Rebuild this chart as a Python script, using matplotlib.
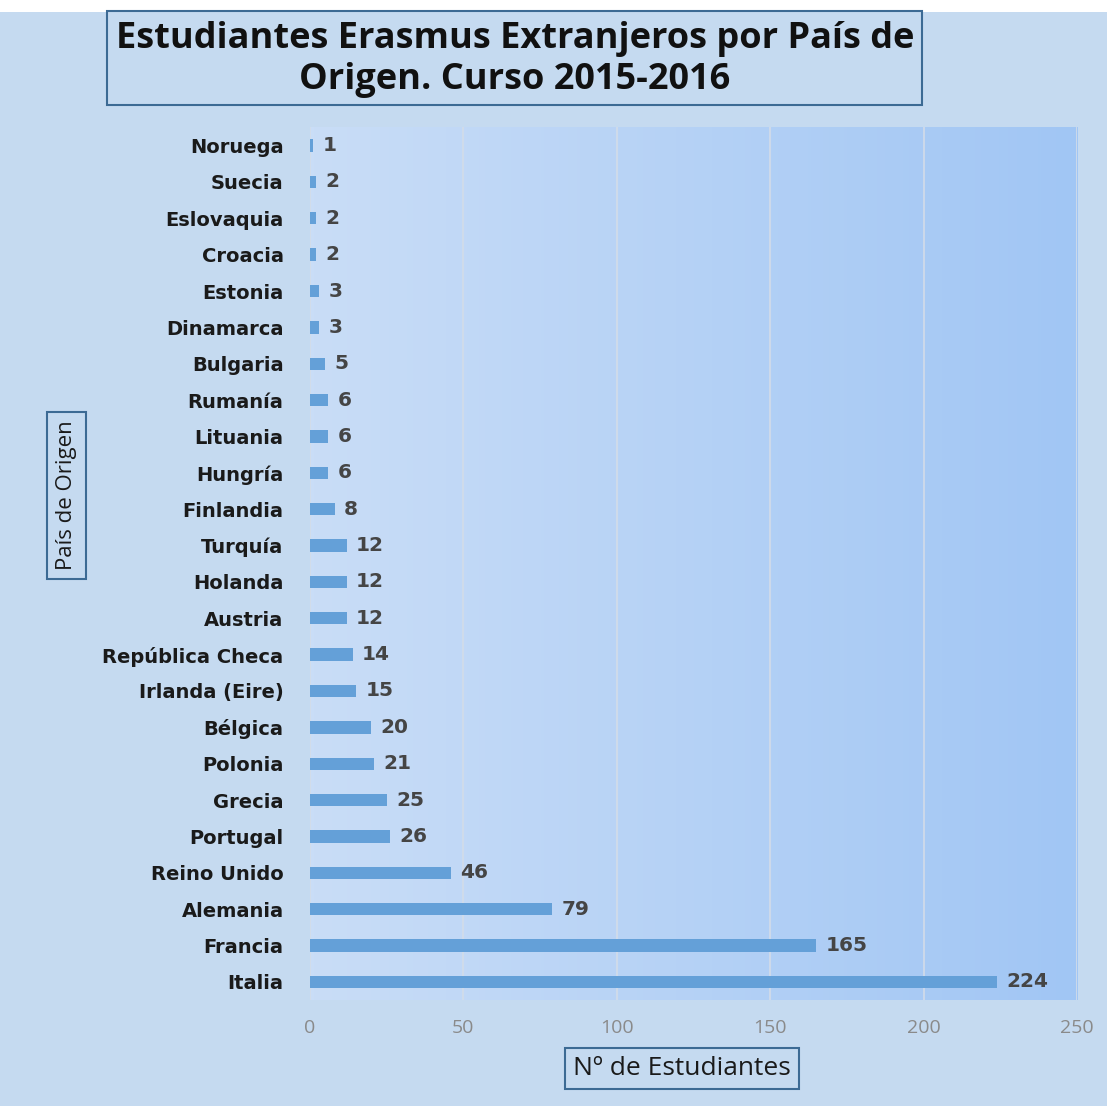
import numpy as np
import matplotlib
matplotlib.use("Agg")
import matplotlib.pyplot as plt
from matplotlib.patches import Rectangle

# data, top to bottom as drawn
paises = ["Noruega", "Suecia", "Eslovaquia", "Croacia", "Estonia", "Dinamarca",
          "Bulgaria", "Rumanía", "Lituania", "Hungría", "Finlandia", "Turquía",
          "Holanda", "Austria", "República Checa", "Irlanda (Eire)", "Bélgica",
          "Polonia", "Grecia", "Portugal", "Reino Unido", "Alemania", "Francia", "Italia"]
estudiantes = [1, 2, 2, 2, 3, 3, 5, 6, 6, 6, 8, 12, 12, 12, 14, 15, 20, 21, 25, 26,
               46, 79, 165, 224]
xticks = [0, 50, 100, 150, 200, 250]

plt.rcParams["font.family"] = ["Open Sans", "DejaVu Sans"]

fig = plt.figure(figsize=(11.07, 11.06), dpi=100, facecolor="#c5daf0")
# white strip along the top edge
fig.patches.append(Rectangle((0, 0.989), 1, 0.011, transform=fig.transFigure,
                             facecolor="white", edgecolor="none", zorder=0))

ax = fig.add_axes([0.280, 0.0958, 0.693, 0.789])
ax.set_facecolor("none")

# horizontal gradient in plot area
grad = np.linspace(0, 1, 256).reshape(1, -1)
cmap = matplotlib.colors.LinearSegmentedColormap.from_list("g", ["#c9ddf7", "#a1c6f4"])
ax.imshow(grad, cmap=cmap, aspect="auto", extent=[0, 1, 0, 1],
          transform=ax.transAxes, zorder=0)

y = np.arange(len(paises))
ax.barh(y, estudiantes, height=0.34, color="#64a0d8", zorder=3)
for yi, v in zip(y, estudiantes):
    ax.text(v + 3, yi, str(v), va="center", ha="left", fontsize=14.5,
            fontweight="bold", color="#454545", family="DejaVu Sans", zorder=4)

ax.set_xlim(0, 250)
ax.set_ylim(len(paises) - 0.5, -0.5)
ax.set_yticks(y)
ax.set_yticklabels(paises, fontsize=14, fontweight="bold", color="#1a1a1a",
                   family="DejaVu Sans")
ax.set_xticks(xticks)
ax.set_xticklabels([str(t) for t in xticks], fontsize=14, color="#8a8a8a")
ax.tick_params(axis="both", length=0)
ax.tick_params(axis="y", pad=19)
ax.tick_params(axis="x", pad=14)
ax.grid(axis="x", color="#d3dce8", linewidth=1.2, zorder=1)
ax.set_axisbelow(True)
for s in ax.spines.values():
    s.set_visible(False)

fig.text(0.465, 0.946, "Estudiantes Erasmus Extranjeros por País de\nOrigen. Curso 2015-2016",
         ha="center", va="center", fontsize=26, fontweight="bold", color="#111111",
         linespacing=1.17)
fig.patches.append(Rectangle((0.097, 0.905), 0.736, 0.085, transform=fig.transFigure,
                             facecolor="none", edgecolor="#3c6a94", linewidth=1.5))

fig.text(0.616, 0.034, "Nº de Estudiantes", ha="center", va="center", fontsize=19,
         color="#1a1a1a", bbox=dict(boxstyle="square,pad=0.3", facecolor="none",
                                    edgecolor="#3c6a94", linewidth=1.5))
fig.text(0.06, 0.552, "País de Origen", ha="center", va="center", rotation=90,
         fontsize=16, color="#1a1a1a", bbox=dict(boxstyle="square,pad=0.4",
                                                 facecolor="none", edgecolor="#3c6a94",
                                                 linewidth=1.5))

fig.savefig("out.png", dpi=100, facecolor=fig.get_facecolor())
